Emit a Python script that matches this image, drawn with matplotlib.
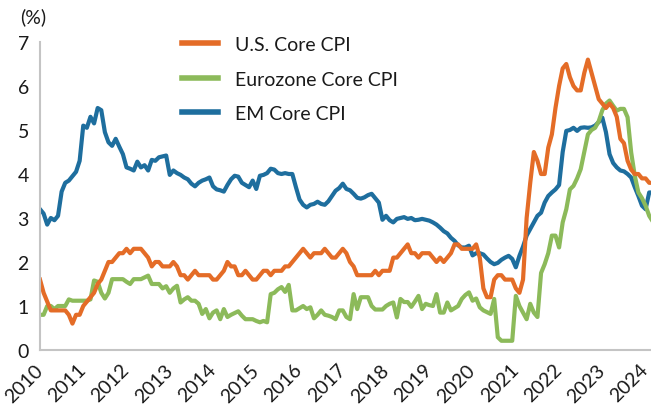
import matplotlib
matplotlib.use('Agg')
import matplotlib.pyplot as plt
import numpy as np

plt.rcParams['font.family'] = ['Lato', 'DejaVu Sans']

start_year = 2010

us_core = [
    1.6, 1.3, 1.1, 0.9, 0.9, 0.9, 0.9, 0.9, 0.8, 0.6, 0.8, 0.8,
    1.0, 1.1, 1.2, 1.3, 1.5, 1.6, 1.8, 2.0, 2.0, 2.1, 2.2, 2.2,
    2.3, 2.2, 2.3, 2.3, 2.3, 2.2, 2.1, 1.9, 2.0, 2.0, 1.9, 1.9,
    1.9, 2.0, 1.9, 1.7, 1.7, 1.6, 1.7, 1.8, 1.7, 1.7, 1.7, 1.7,
    1.6, 1.6, 1.7, 1.8, 2.0, 1.9, 1.9, 1.7, 1.7, 1.8, 1.7, 1.6,
    1.6, 1.7, 1.8, 1.8, 1.7, 1.8, 1.8, 1.8, 1.9, 1.9, 2.0, 2.1,
    2.2, 2.3, 2.2, 2.1, 2.2, 2.2, 2.2, 2.3, 2.2, 2.1, 2.1, 2.2,
    2.3, 2.2, 2.0, 1.9, 1.7, 1.7, 1.7, 1.7, 1.7, 1.8, 1.7, 1.8,
    1.8, 1.8, 2.1, 2.1, 2.2, 2.3, 2.4, 2.2, 2.2, 2.1, 2.2, 2.2,
    2.2, 2.1, 2.0, 2.1, 2.0, 2.1, 2.2, 2.4, 2.4, 2.3, 2.3, 2.3,
    2.3, 2.4, 2.1, 1.4, 1.2, 1.2, 1.6, 1.7, 1.7, 1.6, 1.6, 1.6,
    1.4, 1.3, 1.6, 3.0, 3.8, 4.5, 4.3, 4.0, 4.0, 4.6, 4.9, 5.5,
    6.0, 6.4, 6.5, 6.2, 6.0, 5.9, 5.9, 6.3, 6.6, 6.3, 6.0, 5.7,
    5.6, 5.5, 5.6, 5.5, 5.3, 4.8, 4.7, 4.3, 4.1, 4.0, 4.0, 3.9,
    3.9, 3.8, 3.8,
]

euro_core = [
    0.8, 0.8, 1.0, 1.0, 0.93, 1.0, 1.0, 1.0, 1.15, 1.12, 1.12, 1.12,
    1.12, 1.12, 1.15, 1.58, 1.55, 1.3, 1.17, 1.3, 1.61, 1.61, 1.61, 1.61,
    1.55, 1.5, 1.61, 1.61, 1.61, 1.65, 1.69, 1.5, 1.5, 1.5, 1.4, 1.45,
    1.3, 1.4, 1.46, 1.08, 1.15, 1.2, 1.12, 1.12, 1.05, 0.82, 0.93, 0.72,
    0.85, 0.9, 0.7, 0.93, 0.75, 0.8, 0.84, 0.88, 0.78, 0.7, 0.7, 0.7,
    0.66, 0.63, 0.66, 0.63, 1.27, 1.3, 1.38, 1.43, 1.32, 1.48, 0.9, 0.9,
    0.95, 1.0, 0.93, 0.97, 0.72, 0.8, 0.9, 0.8, 0.78, 0.75, 0.7, 0.9,
    0.9, 0.75, 0.7, 1.27, 0.93, 1.2, 1.2, 1.2, 1.0, 0.92, 0.92, 0.92,
    1.0, 1.05, 1.08, 0.74, 1.16, 1.09, 1.09, 0.98, 1.1, 1.23, 0.93, 1.05,
    1.02, 1.0, 1.27, 0.85, 0.85, 1.08, 0.9, 0.95, 1.0, 1.16, 1.25, 1.31,
    1.12, 1.17, 0.97, 0.9, 0.86, 0.82, 1.16, 0.29, 0.21, 0.21, 0.21, 0.21,
    1.23, 1.0, 0.85, 0.7, 1.05, 0.85, 0.75, 1.75, 1.95, 2.2, 2.6, 2.6,
    2.33, 2.9, 3.2, 3.65, 3.73, 3.9, 4.11, 4.5, 4.9, 5.0, 5.05, 5.2,
    5.45, 5.6, 5.67, 5.55, 5.44, 5.48, 5.48, 5.29, 4.49, 3.96, 3.58, 3.45,
    3.28, 3.05, 2.92,
]

em_core = [
    3.2, 3.1, 2.85, 3.0, 2.95, 3.05, 3.6, 3.8, 3.85, 3.95, 4.05, 4.3,
    5.1, 5.05, 5.3, 5.15, 5.5, 5.45, 4.95, 4.72, 4.64, 4.8, 4.62, 4.45,
    4.15, 4.12, 4.08, 4.28, 4.15, 4.2, 4.08, 4.32, 4.3, 4.38, 4.4, 4.42,
    3.98, 4.08, 4.02, 3.98, 3.92, 3.88, 3.78, 3.72, 3.8, 3.85, 3.88, 3.92,
    3.72, 3.65, 3.63, 3.6, 3.75, 3.88, 3.96, 3.94, 3.8, 3.75, 3.7, 3.85,
    3.66, 3.96, 3.98, 4.02, 4.12, 4.1, 4.02, 4.0, 4.02, 4.0, 4.0, 3.7,
    3.42, 3.3, 3.24, 3.3, 3.32, 3.37, 3.32, 3.3, 3.38, 3.5, 3.62, 3.68,
    3.78, 3.66, 3.63, 3.55, 3.46, 3.44, 3.47, 3.52, 3.55, 3.45, 3.35, 2.96,
    3.05, 2.95, 2.9, 2.98, 3.0, 3.02, 2.98, 3.0, 2.95, 2.96, 2.98, 2.96,
    2.94, 2.9, 2.85, 2.78, 2.7, 2.65, 2.55, 2.48, 2.38, 2.33, 2.33, 2.37,
    2.15, 2.2, 2.2, 2.17, 2.08, 2.0, 1.95, 1.98, 2.05, 2.1, 2.14, 2.07,
    1.88, 2.14, 2.35, 2.6, 2.75, 2.9, 3.05, 3.12, 3.35, 3.5, 3.58, 3.65,
    3.75, 4.5, 4.98, 5.0, 5.05, 4.98, 5.05, 5.06, 5.05, 5.06, 5.1, 5.18,
    5.28, 4.95, 4.45, 4.25, 4.15, 4.08, 4.06, 4.0, 3.92, 3.7, 3.5, 3.28,
    3.2, 3.58, 3.58,
]

series_labels = ['U.S. Core CPI', 'Eurozone Core CPI', 'EM Core CPI']
series_colors = ['#E46C27', '#8CBA5A', '#1E6E9E']
tick_years = list(range(2010, 2025))
tick_labels = [str(y) for y in tick_years]
y_ticks = [0, 1, 2, 3, 4, 5, 6, 7]

x = start_year + np.arange(len(us_core)) / 12.0

W, H = 651, 410
fig = plt.figure(figsize=(W / 100, H / 100), dpi=100)
ax = fig.add_axes([40 / W, 59 / H, 611 / W, 308 / H])

lw = 3.0
l_em, = ax.plot(x, em_core, color=series_colors[2], lw=lw, solid_joinstyle='round', label=series_labels[2])
l_eu, = ax.plot(x, euro_core, color=series_colors[1], lw=lw, solid_joinstyle='round', label=series_labels[1])
l_us, = ax.plot(x, us_core, color=series_colors[0], lw=lw, solid_joinstyle='round', label=series_labels[0])

ax.set_xlim(2010, 2010 + 169.5 / 12)
ax.set_ylim(0, 7)
ax.set_yticks(y_ticks)
ax.set_yticklabels([str(v) for v in y_ticks])
ax.set_xticks(tick_years)
ax.set_xticklabels(tick_labels, rotation=45, ha='right', va='center', rotation_mode='anchor')

for s in ['top', 'right']:
    ax.spines[s].set_visible(False)
for s in ['left', 'bottom']:
    ax.spines[s].set_color('#c4c4c4')
    ax.spines[s].set_linewidth(1.5)

ax.tick_params(axis='both', length=0, labelsize=14, colors='#1a1a1a')
ax.tick_params(axis='y', pad=8)
ax.tick_params(axis='x', pad=12)

fig.text(20 / W, 1 - 8 / H, '(%)', ha='left', va='top', fontsize=14, color='#1a1a1a')

leg = ax.legend(handles=[l_us, l_eu, l_em], loc='upper left',
                bbox_to_anchor=(182 / W, 1 - 37 / H), bbox_transform=fig.transFigure,
                frameon=False, fontsize=14, handlelength=1.85, handletextpad=0.9,
                labelspacing=0.9, borderpad=0, borderaxespad=0)
for t in leg.get_texts():
    t.set_color('#1a1a1a')
for h in leg.legend_handles:
    h.set_linewidth(4)

fig.savefig('out.png', dpi=100, facecolor='white')
